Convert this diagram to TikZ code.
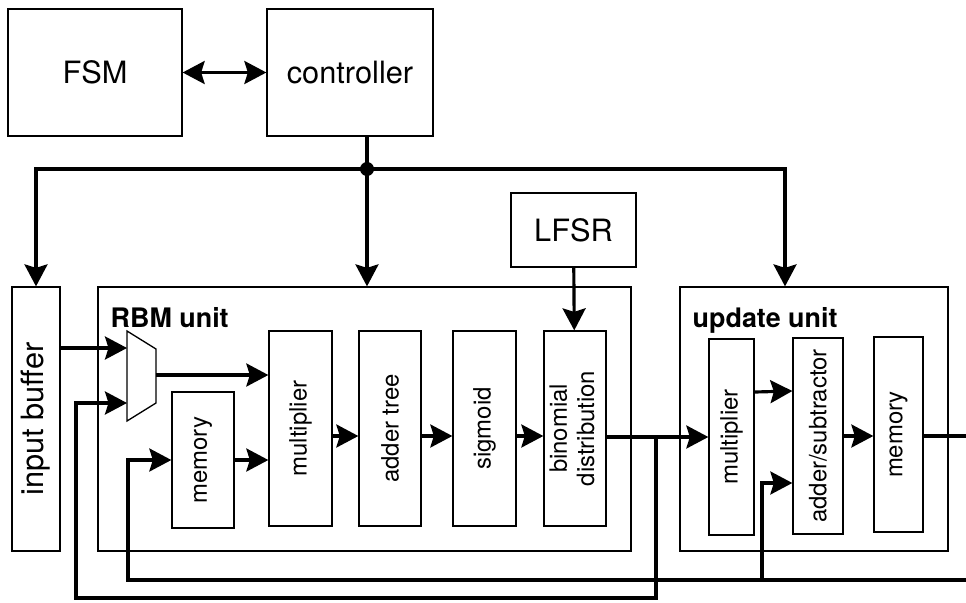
\documentclass[tikz,border=0pt]{standalone}
\usepackage{fontspec}
\setmainfont{TeX Gyre Heros}
\usepackage{tikz}
\usetikzlibrary{arrows.meta}

\tikzset{
  head/.tip={Stealth[length=0.44cm, width=0.46cm, inset=0.07cm]},
  block/.style={draw, line width=0.75pt, inner sep=0pt, align=center,
    font=\fontsize{13.6}{15.5}\selectfont},
  bigblock/.style={block, font=\fontsize{17.5}{20}\selectfont},
  unit/.style={draw, line width=0.75pt, inner sep=0pt},
  unitlabel/.style={anchor=north west, inner sep=0pt,
    font=\fontsize{15.3}{17}\selectfont\bfseries},
  wire/.style={line width=1.8pt},
  conn/.style={wire, -head},
}

\begin{document}
\begin{tikzpicture}[x=0.02cm, y=-0.02cm]
  \useasboundingbox (0,0) rectangle (966,602);

  % control part
  \node[bigblock, minimum width=3.48cm, minimum height=2.54cm] (fsm) at (95,72.5) {FSM};
  \node[bigblock, minimum width=3.32cm, minimum height=2.54cm] (ctrl) at (350,72.5) {controller};
  \node[bigblock, minimum width=2.5cm, minimum height=1.48cm] (lfsr) at (573.5,230) {LFSR};

  % input buffer and the two units
  \node[bigblock, minimum width=0.96cm, minimum height=5.28cm] (buf) at (36,419) {\rotatebox{90}{input buffer}};
  \node[unit, minimum width=10.66cm, minimum height=5.28cm] (rbm) at (364.5,419) {};
  \node[unit, minimum width=5.36cm, minimum height=5.28cm] (upd) at (814,419) {};
  \node[unitlabel] (rbmlbl) at ([xshift=0.26cm, yshift=-0.42cm]rbm.north west) {RBM unit};
  \node[unitlabel] (updlbl) at ([xshift=0.26cm, yshift=-0.42cm]upd.north west) {update unit};

  % blocks inside the RBM unit
  \node[block, minimum width=1.24cm, minimum height=2.72cm] (mem1) at (203,460) {\rotatebox{90}{memory}};
  \node[block, minimum width=1.26cm, minimum height=3.9cm] (mul1) at (300.5,428.5) {\rotatebox{90}{multiplier}};
  \node[block, minimum width=1.24cm, minimum height=3.9cm] (add) at (390,428.5) {\rotatebox{90}{adder tree}};
  \node[block, minimum width=1.26cm, minimum height=3.9cm] (sig) at (484.5,428.5) {\rotatebox{90}{sigmoid}};
  \node[block, minimum width=1.24cm, minimum height=3.9cm] (bin) at (575,428.5) {\rotatebox{90}{\begin{tabular}{@{}c@{}}binomial\\distribution\end{tabular}}};

  % blocks inside the update unit
  \node[block, minimum width=0.9cm, minimum height=3.92cm] (mul2) at (731.5,437) {\rotatebox{90}{multiplier}};
  \node[block, minimum width=1.0cm, minimum height=3.92cm] (addsub) at (818,436) {\rotatebox{90}{adder/subtractor}};
  \node[block, minimum width=0.98cm, minimum height=3.9cm] (mem2) at (898.5,434.5) {\rotatebox{90}{memory}};

  % multiplexer in front of the multiplier
  \draw[line width=0.75pt] (127,331) -- (156,349) -- (156,403) -- (127,421) -- cycle;
  \coordinate (muxa) at (127,348);
  \coordinate (muxb) at (127,403);
  \coordinate (muxo) at (156,375);

  % helper points
  \coordinate (jn) at (367,169);
  \coordinate (row) at (0,436);
  \coordinate (tap) at (656,437);
  \coordinate (fbl) at (76,598);
  \coordinate (fbr) at (128,580);
  \coordinate (tap2) at (762,580);
  \coordinate (back) at (966,580);
  \coordinate (mem2out) at (966,436);

  % control bus
  \draw[wire, head-head] (fsm) -- (ctrl);
  \draw[wire] (ctrl.south -| jn) -- (jn);
  \draw[conn] (jn) -- (rbm.north -| jn);
  \draw[conn] (jn) -| (buf.north);
  \draw[conn] (jn) -| ([xshift=-0.58cm]upd.north);
  \fill (jn) circle (0.14cm);
  \draw[conn] (lfsr) -- (bin);

  % data path of the RBM unit
  \draw[conn] (buf.east |- muxa) -- (muxa);
  \draw[conn] (muxo) -- (muxo -| mul1.west);
  \draw[conn] (mem1.east) -- (mem1.east -| mul1.west);
  \draw[conn] (mul1.east |- row) -- (add.west |- row);
  \draw[conn] (add.east |- row) -- (sig.west |- row);
  \draw[conn] (sig.east |- row) -- (bin.west |- row);
  \draw[conn] (bin.east |- mul2) -- (mul2.west);

  % data path of the update unit
  \draw[conn] ([yshift=0.9cm]mul2.east) -- ([yshift=0.9cm]addsub.west);
  \draw[conn] (addsub.east) -- (addsub.east -| mem2.west);
  \draw[wire] (mem2.east |- mem2out) -- (mem2out);

  % feedback lines
  \draw[conn] (tap) |- (fbl) |- (muxb);
  \draw[conn] (back) -- (fbr) |- (mem1.west);
  \draw[conn] (tap2) |- ([yshift=-0.94cm]addsub.west);
\end{tikzpicture}
\end{document}
